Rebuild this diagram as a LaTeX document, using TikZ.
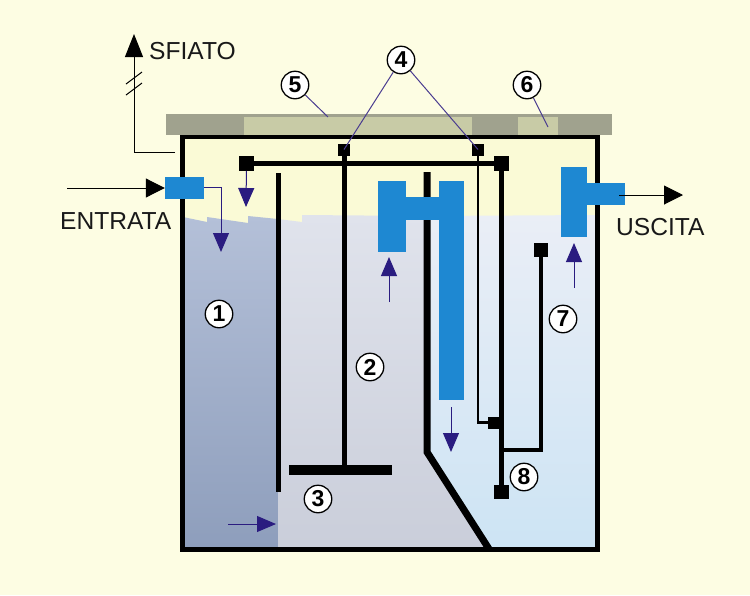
\documentclass[tikz,border=0pt]{standalone}
\usepackage{fontspec}
\setmainfont{Liberation Sans}
\usetikzlibrary{arrows.meta,calc}
\definecolor{paper}{HTML}{FDFDE3}
\definecolor{air}{HTML}{FAFAD6}
\definecolor{lidd}{HTML}{A0A28E}
\definecolor{lidl}{HTML}{C8CBA6}
\definecolor{pipe}{HTML}{1E88D2}
\definecolor{flow}{HTML}{2A1C80}
\definecolor{leader}{HTML}{4A3C90}
\tikzset{
 x=1pt,y=-1pt,
 sq/.style={fill=black,inner sep=0pt,minimum size=#1,draw=none,rectangle},
 num/.style={circle,draw=black,line width=1.3pt,fill=white,inner sep=0pt,minimum size=27.5,font=\fontsize{23}{23}\selectfont\bfseries},
 lab/.style={font=\fontsize{24.6}{25}\selectfont,inner sep=0pt,anchor=base west,text=black!90},
 rod/.style={draw=black,line width=#1},
 lead/.style={draw=leader,line width=1pt},
 bluearrow/.style={draw=flow,line width=1pt,-{Triangle[length=19,width=16,fill=flow]}},
 blackarrow/.style={draw=black,line width=1pt,-{Triangle[length=19,width=19,fill=black]}},
 pipepart/.style={fill=pipe,draw=none},
}
\begin{document}
\begin{tikzpicture}
\useasboundingbox (0,0) rectangle (750,595);
\fill[paper] (0,0) rectangle (750,595);
% air and liquid
\fill[air] (183,137) rectangle (597,230);
\shade[top color={rgb,255:red,180;green,192;blue,216},bottom color={rgb,255:red,142;green,158;blue,188}]
 (183,217) -- (207,222) -- (207,217) -- (248,223) -- (248,216) -- (278,219) -- (278,547) -- (183,547) -- cycle;
\shade[top color={rgb,255:red,224;green,227;blue,236},bottom color={rgb,255:red,202;green,206;blue,218}]
 (278,219) -- (302,222) -- (302,215) -- (427,216) -- (427,450) -- (490,547) -- (278,547) -- cycle;
\shade[top color={rgb,255:red,234;green,238;blue,246},bottom color={rgb,255:red,205;green,228;blue,244}]
 (427,216) -- (597,215) -- (597,547) -- (490,547) -- (427,450) -- cycle;
% lid
\fill[lidd] (166,114) rectangle (612,135);
\fill[lidl] (244,117) rectangle (472,136);
\fill[lidl] (518,117) rectangle (558,137);
% tank
\draw[black,line width=5pt,miter limit=10] (182.5,135) -- (182.5,549.5) -- (597.5,549.5) -- (597.5,135);
\draw[black,line width=3.5pt] (181,137) -- (599.5,137);
% internal wall
\draw[rod=7pt,miter limit=10] (427,172) -- (427,452) -- (489,549);
% baffle
\coordinate (bafT) at (278,173); \coordinate (bafB) at (278,492);
\draw[rod=5pt] (bafT) -- (bafB);
% plate and its rod
\node[sq=12] (s4a) at (344,149.5) {};
\coordinate (plateL) at (289,470); \coordinate (plateR) at (392,470); \coordinate (plateC) at (344,470);
\draw[rod=10pt] (plateL) -- (plateR);
\draw[rod=5pt] (s4a) -- (plateC);
% horizontal rod
\node[sq=14.5] (sL) at (246.5,163.5) {};
\node[sq=14.5] (sR) at (501.5,163.5) {};
\draw[rod=5pt] (sL) -- (sR);
% float rods
\node[sq=12] (s4b) at (478,149.5) {};
\node[sq=12] (sM) at (494,422.5) {};
\node[sq=14.5] (sB) at (501.5,492) {};
\node[sq=14] (sU) at (541,250) {};
\coordinate (jn) at (502,450);
\coordinate (thinc) at (478,422.5);
\draw[rod=2.8pt] (s4b) -- (thinc) -- (sM);
\draw[rod=5pt] (sR) -- (sB);
\draw[rod=4.5pt] (jn) -- (541,450) -- (sU);
% blue pipes
\fill[pipepart] (378,181) rectangle (406,252);
\fill[pipepart] (406,197) rectangle (439,220);
\fill[pipepart] (439,181) rectangle (464,400);
\fill[pipepart] (561,167) rectangle (587,237);
\fill[pipepart] (587,183) rectangle (625,205);
\node[pipepart,minimum width=39,minimum height=22,inner sep=0pt] (inlet) at (184.5,188) {};
% flow arrows
\coordinate (f1) at (246,207);
\draw[bluearrow] (sL) -- (f1);
\coordinate (f2a) at (221,187); \coordinate (f2b) at (221,252);
\draw[bluearrow] (inlet.east) ++(0,-1) -- (f2a) -- (f2b);
\coordinate (f3a) at (389,302); \coordinate (f3b) at (389,257);
\draw[bluearrow] (f3a) -- (f3b);
\coordinate (f4a) at (574,288); \coordinate (f4b) at (574,243);
\draw[bluearrow] (f4a) -- (f4b);
\coordinate (f5a) at (451,407); \coordinate (f5b) at (451,452);
\draw[bluearrow] (f5a) -- (f5b);
\coordinate (f6a) at (228,524); \coordinate (f6b) at (276,524);
\draw[bluearrow] (f6a) -- (f6b);
% external lines
\coordinate (inA) at (67,188);
\draw[blackarrow] (inA) -- (inlet.west);
\coordinate (outA) at (619,195); \coordinate (outB) at (683,195);
\draw[blackarrow] (outA) -- (outB);
\coordinate (ventA) at (175,152); \coordinate (ventB) at (134,152); \coordinate (ventC) at (134,34);
\draw[black,line width=1pt,-{Triangle[length=23,width=18,fill=black]}] (ventA) -- (ventB) -- (ventC);
\draw[black,line width=1pt] (126,84) -- (142,72);
\draw[black,line width=1pt] (126,95) -- (142,83);
% leaders and numbers
\node[num] (n1) at (219,314) {1};
\node[num] (n2) at (370,367) {2};
\node[num] (n3) at (318,499) {3};
\node[num] (n4) at (401,60) {4};
\node[num] (n5) at (295,85) {5};
\node[num] (n6) at (527,85) {6};
\node[num] (n7) at (563,319) {7};
\node[num] (n8) at (524,477) {8};
\coordinate (l5) at (328,117);
\coordinate (l6) at (548,127);
\draw[lead] (n5) -- (l5);
\draw[lead] (n6) -- (l6);
\draw[lead] (n4) -- (s4a.center);
\draw[lead] (n4) -- (s4b.center);
% labels
\node[lab] (tsf) at (149,59) {SFIATO};
\node[lab] (ten) at (60,229) {ENTRATA};
\node[lab] (tus) at (616,235) {USCITA};
\end{tikzpicture}
\end{document}
